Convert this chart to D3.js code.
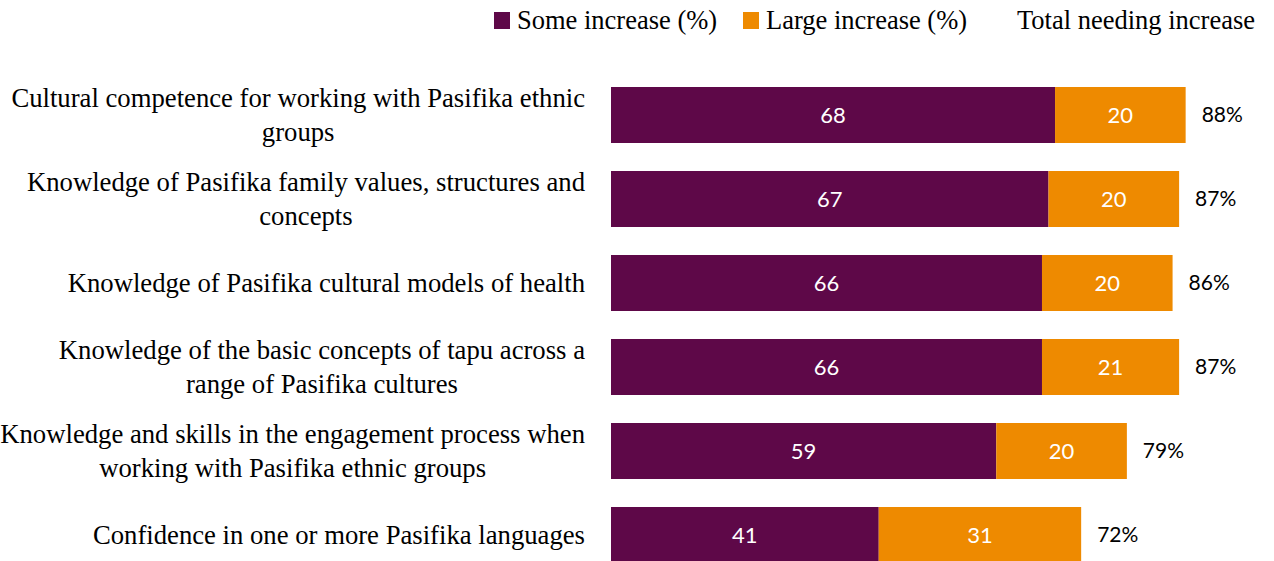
<!DOCTYPE html>
<html>
<head>
<meta charset="utf-8">
<script src="https://cdn.jsdelivr.net/npm/d3@7"></script>
<style>
  html, body { margin: 0; padding: 0; background: #fff; overflow: hidden; }
  svg { display: block; }
</style>
</head>
<body>
<svg id="chart" width="1274" height="561"></svg>
<script>
// Survey items (line breaks mark where each label wraps)
const categories = [
  "Cultural competence for working with Pasifika ethnic\ngroups",
  "Knowledge of Pasifika family values, structures and\nconcepts",
  "Knowledge of Pasifika cultural models of health",
  "Knowledge of the basic concepts of tapu across a\nrange of Pasifika cultures",
  "Knowledge and skills in the engagement process when\nworking with Pasifika ethnic groups",
  "Confidence in one or more Pasifika languages"
];
const someIncrease  = [68, 67, 66, 66, 59, 41];
const largeIncrease = [20, 20, 20, 21, 20, 31];
const totalNeeding  = [88, 87, 86, 87, 79, 72];
const seriesNames = ["Some increase (%)", "Large increase (%)"];
const totalLabel = "Total needing increase";

const colors = { some: "#5E0848", large: "#EE8A00" };
const serif = "'Liberation Serif', 'Times New Roman', serif";
const sans = "Lato, 'Open Sans', sans-serif";

const svg = d3.select("#chart");

const x = d3.scaleLinear().domain([0, 100]).range([611, 1264]);
const y = d3.scaleBand().domain(categories).range([73, 577]).paddingInner(1/3).paddingOuter(1/6);

const rows = categories.map((c, i) => ({
  cat: c, some: someIncrease[i], large: largeIncrease[i], total: totalNeeding[i]
}));

// Stacked bars
const g = svg.append("g");
g.selectAll("rect.some").data(rows).join("rect")
  .attr("class", "some")
  .attr("x", x(0))
  .attr("y", d => y(d.cat))
  .attr("width", d => x(d.some) - x(0))
  .attr("height", y.bandwidth())
  .attr("fill", colors.some);

g.selectAll("rect.large").data(rows).join("rect")
  .attr("class", "large")
  .attr("x", d => x(d.some))
  .attr("y", d => y(d.cat))
  .attr("width", d => x(d.some + d.large) - x(d.some))
  .attr("height", y.bandwidth())
  .attr("fill", colors.large);

// Segment value labels
const segText = (cls, fx, fv) => g.selectAll("text." + cls).data(rows).join("text")
  .attr("class", cls)
  .attr("x", fx)
  .attr("y", d => y(d.cat) + y.bandwidth() / 2)
  .attr("dy", "0.35em")
  .attr("text-anchor", "middle")
  .attr("fill", "#fff")
  .style("font-family", sans)
  .style("font-size", "22px")
  .text(fv);
segText("vsome", d => (x(0) + x(d.some)) / 2, d => d.some);
segText("vlarge", d => (x(d.some) + x(d.some + d.large)) / 2, d => d.large);

// Totals
g.selectAll("text.total").data(rows).join("text")
  .attr("class", "total")
  .attr("x", d => x(d.total) + 16)
  .attr("y", d => y(d.cat) + y.bandwidth() / 2)
  .attr("dy", "0.35em")
  .attr("fill", "#000")
  .style("font-family", sans)
  .style("font-size", "21px")
  .text(d => d.total + "%");

// Category labels: lines centred within a block whose right edge sits at labelRight
const labelRight = 585, lineH = 34;
const labels = svg.append("g");
rows.forEach(d => {
  const lines = d.cat.split("\n");
  const t = labels.append("text")
    .attr("text-anchor", "middle")
    .attr("fill", "#000")
    .style("font-family", serif)
    .style("font-size", "26.7px");
  const cy = y(d.cat) + y.bandwidth() / 2;
  const start = cy - (lines.length - 1) * lineH / 2;
  const spans = lines.map((l, k) => t.append("tspan")
    .attr("y", start + k * lineH)
    .attr("dy", "0.33em")
    .text(l));
  const widest = d3.max(spans, s => s.node().getComputedTextLength());
  spans.forEach(s => s.attr("x", labelRight - widest / 2));
});

// Legend
const legend = svg.append("g");
const legendItems = [
  { name: seriesNames[0], color: colors.some, x: 494 },
  { name: seriesNames[1], color: colors.large, x: 743 }
];
legend.selectAll("rect").data(legendItems).join("rect")
  .attr("x", d => d.x).attr("y", 12)
  .attr("width", 16).attr("height", 17)
  .attr("fill", d => d.color);
legend.selectAll("text.item").data(legendItems).join("text")
  .attr("class", "item")
  .attr("x", d => d.x + 23).attr("y", 20)
  .attr("dy", "0.35em")
  .style("font-family", serif).style("font-size", "26.5px")
  .text(d => d.name);
legend.append("text")
  .attr("x", 1017).attr("y", 20).attr("dy", "0.35em")
  .style("font-family", serif).style("font-size", "26.5px")
  .text(totalLabel);
</script>
</body>
</html>
